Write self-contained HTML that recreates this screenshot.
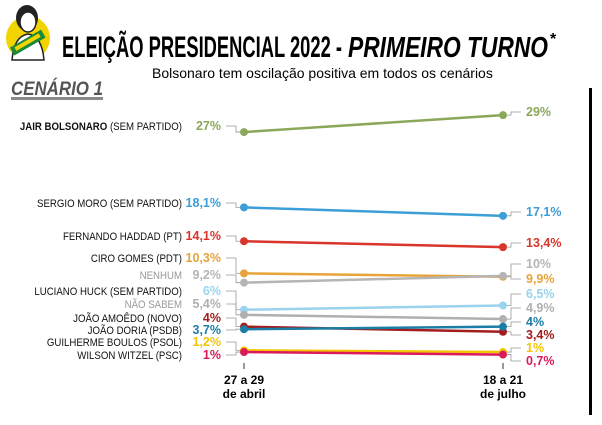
<!DOCTYPE html>
<html><head><meta charset="utf-8"><style>
body{margin:0;background:#fff;width:602px;height:420px;overflow:hidden;font-family:"Liberation Sans",sans-serif}
</style></head><body>
<svg width="602" height="420" xmlns="http://www.w3.org/2000/svg">
<g>
<circle cx="28" cy="38" r="22" fill="#f2d500"/>
<ellipse cx="27" cy="18" rx="11" ry="13" fill="#222"/>
<ellipse cx="28" cy="22" rx="8" ry="10" fill="#fff" stroke="#222" stroke-width="1.5"/>
<path d="M12 60 Q14 36 28 34 Q42 36 44 60Z" fill="#fff" stroke="#222" stroke-width="1.5"/>
<rect x="10" y="38" width="36" height="9" fill="#1b8a3a" transform="rotate(-30 28 43)"/>
<rect x="14" y="40" width="28" height="4" fill="#f2d500" transform="rotate(-30 28 43)"/>
</g>
<text x="62" y="57" font-family="'Liberation Sans Narrow','Liberation Sans',sans-serif" font-weight="bold" font-size="30" textLength="280" lengthAdjust="spacingAndGlyphs">ELEIÇÃO PRESIDENCIAL 2022 -</text>
<text x="348" y="57" font-weight="bold" font-style="italic" font-size="29" textLength="200" lengthAdjust="spacingAndGlyphs">PRIMEIRO TURNO</text>
<text x="550" y="44" font-weight="bold" font-size="16">*</text>
<text x="152" y="78" font-size="14">Bolsonaro tem oscilação positiva em todos os cenários</text>
<text x="11" y="95" font-weight="bold" font-style="italic" font-size="19" fill="#555" textLength="92" lengthAdjust="spacingAndGlyphs">CENÁRIO 1</text>
<rect x="11" y="97" width="92" height="3" fill="#888"/>
<rect x="589" y="88" width="3" height="327" fill="#000"/>
<g id="plot"></g>
<g>
<line x1="244" y1="363" x2="244" y2="369" stroke="#333"/>
<line x1="503" y1="363" x2="503" y2="369" stroke="#333"/>
<text x="244" y="384" font-size="12" font-weight="bold" text-anchor="middle">27 a 29</text>
<text x="244" y="398" font-size="12" font-weight="bold" text-anchor="middle">de abril</text>
<text x="503" y="384" font-size="12" font-weight="bold" text-anchor="middle">18 a 21</text>
<text x="503" y="398" font-size="12" font-weight="bold" text-anchor="middle">de julho</text>
</g>
</svg>
<script>
const names=["JAIR BOLSONARO","SERGIO MORO","FERNANDO HADDAD","CIRO GOMES","NENHUM","LUCIANO HUCK","NÃO SABEM","JOÃO AMOÊDO","JOÃO DORIA","GUILHERME BOULOS","WILSON WITZEL"];
const parties=[" (SEM PARTIDO)"," (SEM PARTIDO)"," (PT)"," (PDT)",""," (SEM PARTIDO)",""," (NOVO)"," (PSDB)"," (PSOL)"," (PSC)"];
const april=[27,18.1,14.1,10.3,9.2,6,5.4,4,3.7,1.2,1];
const july=[29,17.1,13.4,9.9,10,6.5,4.9,3.4,4,1,0.7];
const colors=["#8ba75a","#3c9fd8","#d8352b","#e6a43a","#b5b5b5","#9ad3ee","#b0b0b0","#a31d1d","#1b7ea6","#f4c400","#d91b5c"];
const leftLabelY=[130,207,240,262,279,295,308,322,334,346,359];
const rightLabelY={0:116,1:216,2:247,3:283,4:268,5:298,6:312,7:339,8:326,9:352,10:365};
const X1=244,X2=503;
const y=v=>360.5-v*8.46;
const fmt=v=>String(v).replace('.',',')+'%';
const g=document.getElementById('plot');
const NS='http://www.w3.org/2000/svg';
function mk(t,a){const e=document.createElementNS(NS,t);for(const k in a)e.setAttribute(k,a[k]);g.appendChild(e);return e;}
for(let i=0;i<names.length;i++){
 const c=colors[i],y1=y(april[i]),y2=y(july[i]),ly=leftLabelY[i],ry=rightLabelY[i];
 const gray=(i==4||i==6);
 const ld=mk('polyline',{points:`226,${ly-4} 236,${ly-4} 236,${y1} 240,${y1}`,fill:'none',stroke:'#999','stroke-width':0.8});
 
 
 const rd=mk('polyline',{points:`507,${y2} 511,${y2} 511,${ry-4} 521,${ry-4}`,fill:'none',stroke:'#999','stroke-width':0.8});
 
 
 const ln=mk('line',{x1:X1,y1:y1,x2:X2,y2:y2,stroke:c,'stroke-width':2.5});
 
 
 const p1=mk('circle',{cx:X1,cy:y1,r:4,fill:c});
 
 
 const p2=mk('circle',{cx:X2,cy:y2,r:4,fill:c});
 
 
 const t=mk('text',{x:0,y:0,'font-size':11.5,'text-anchor':'end',fill:gray?'#999':'#111',transform:`translate(182,${ly}) scale(0.84,1)`});
 
 
 t.innerHTML=(i==0?'<tspan font-weight="bold">'+names[i]+'</tspan>':names[i])+parties[i];
 const v1=mk('text',{x:221,y:ly,'font-size':12.5,'font-weight':'bold','text-anchor':'end',fill:c});
 
 
 v1.textContent=fmt(april[i]);
 const v2=mk('text',{x:526,y:ry,'font-size':12.5,'font-weight':'bold',fill:c});
 
 
 v2.textContent=fmt(july[i]);
}
</script>
</body></html>
